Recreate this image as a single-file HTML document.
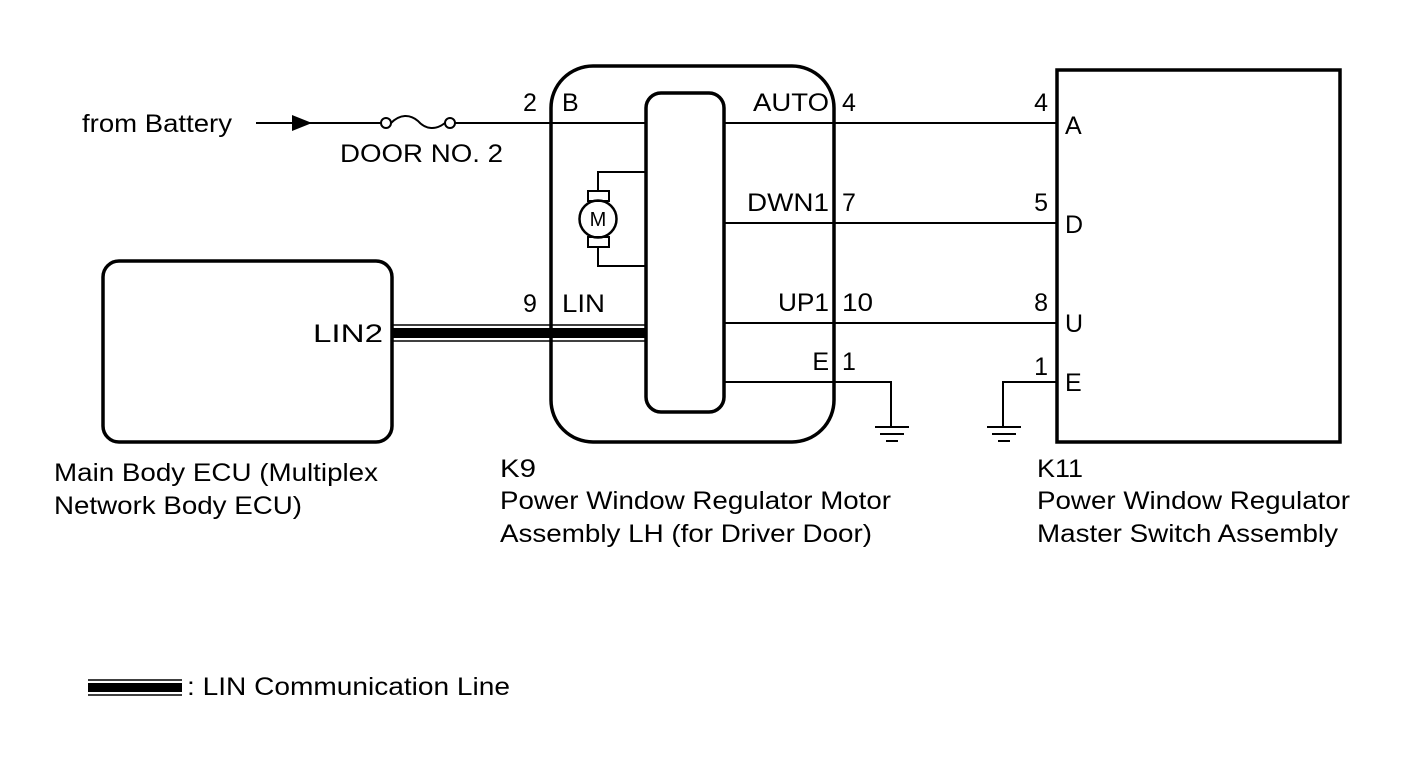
<!DOCTYPE html>
<html><head><meta charset="utf-8"><style>
html,body{margin:0;padding:0;background:#fff;}
svg{display:block;}
text{font-family:"Liberation Sans",Arial,sans-serif;font-size:25px;fill:#000;}
</style></head><body>
<svg width="1424" height="759" viewBox="0 0 1424 759" xmlns="http://www.w3.org/2000/svg">
<g fill="none" stroke="#000">
<rect x="551" y="66" width="283" height="376" rx="42" stroke-width="3.5"/>
<rect x="646" y="93" width="78" height="319" rx="15" stroke-width="3.5"/>
<rect x="103" y="261" width="289" height="181" rx="16" stroke-width="3.5"/>
<rect x="1057" y="70" width="283" height="372" stroke-width="3.5"/>
<path d="M256 123H381M455 123H646" stroke-width="2"/>
<path d="M724 123H1057M724 223H1057M724 323H1057" stroke-width="2"/>
<path d="M724 382H891V427M1057 382H1003V427" stroke-width="2"/>
<circle cx="386" cy="123" r="5" stroke-width="2"/>
<circle cx="450" cy="123" r="5" stroke-width="2"/>
<path d="M391 123 C400 114 410 114 418 121 C426 130 436 130 445 123" stroke-width="2"/>
<path d="M598 191V172H646M598 247V266H646" stroke-width="2"/>
<circle cx="598" cy="219" r="18.5" stroke-width="2.5"/>
<rect x="588" y="191" width="21" height="10" stroke-width="2"/>
<rect x="588" y="237" width="21" height="10" stroke-width="2"/>
<path d="M392 325H646M392 341H646" stroke-width="1.5"/>
<path d="M875 427H909M880 434H904M886 441H898" stroke-width="2"/>
<path d="M987 427H1021M992 434H1016M998 441H1010" stroke-width="2"/>
<path d="M88 680H182M88 695H182" stroke-width="1.5"/>
</g>
<rect x="392" y="328" width="254" height="10" fill="#000"/>
<rect x="88" y="683" width="94" height="9" fill="#000"/>
<polygon points="292,115 312,123 292,131" fill="#000"/>
<text x="598" y="226" text-anchor="middle" style="font-size:20px">M</text>
<text x="82" y="132" textLength="150" lengthAdjust="spacingAndGlyphs">from Battery</text>
<text x="340" y="162" textLength="163" lengthAdjust="spacingAndGlyphs">DOOR NO. 2</text>
<text x="523" y="111">2</text>
<text x="562" y="111">B</text>
<text x="523" y="312">9</text>
<text x="562" y="312" textLength="43" lengthAdjust="spacingAndGlyphs">LIN</text>
<text x="313" y="342" textLength="70" lengthAdjust="spacingAndGlyphs">LIN2</text>
<text x="753" y="111" textLength="76" lengthAdjust="spacingAndGlyphs">AUTO</text>
<text x="842" y="111">4</text>
<text x="747" y="211" textLength="82" lengthAdjust="spacingAndGlyphs">DWN1</text>
<text x="842" y="211">7</text>
<text x="778" y="311" textLength="51" lengthAdjust="spacingAndGlyphs">UP1</text>
<text x="842" y="311" textLength="31" lengthAdjust="spacingAndGlyphs">10</text>
<text x="829" y="370" text-anchor="end">E</text>
<text x="842" y="370">1</text>
<text x="1048" y="111" text-anchor="end">4</text>
<text x="1048" y="211" text-anchor="end">5</text>
<text x="1048" y="311" text-anchor="end">8</text>
<text x="1048" y="375" text-anchor="end">1</text>
<text x="1065" y="134">A</text>
<text x="1065" y="233">D</text>
<text x="1065" y="332">U</text>
<text x="1065" y="391">E</text>
<text x="54" y="481" textLength="324" lengthAdjust="spacingAndGlyphs">Main Body ECU (Multiplex</text>
<text x="54" y="514" textLength="248" lengthAdjust="spacingAndGlyphs">Network Body ECU)</text>
<text x="500" y="477" textLength="36" lengthAdjust="spacingAndGlyphs">K9</text>
<text x="500" y="509" textLength="391" lengthAdjust="spacingAndGlyphs">Power Window Regulator Motor</text>
<text x="500" y="542" textLength="372" lengthAdjust="spacingAndGlyphs">Assembly LH (for Driver Door)</text>
<text x="1037" y="477" textLength="46" lengthAdjust="spacingAndGlyphs">K11</text>
<text x="1037" y="509" textLength="313" lengthAdjust="spacingAndGlyphs">Power Window Regulator</text>
<text x="1037" y="542" textLength="301" lengthAdjust="spacingAndGlyphs">Master Switch Assembly</text>
<text x="187" y="695" textLength="323" lengthAdjust="spacingAndGlyphs">: LIN Communication Line</text>
</svg>
</body></html>
